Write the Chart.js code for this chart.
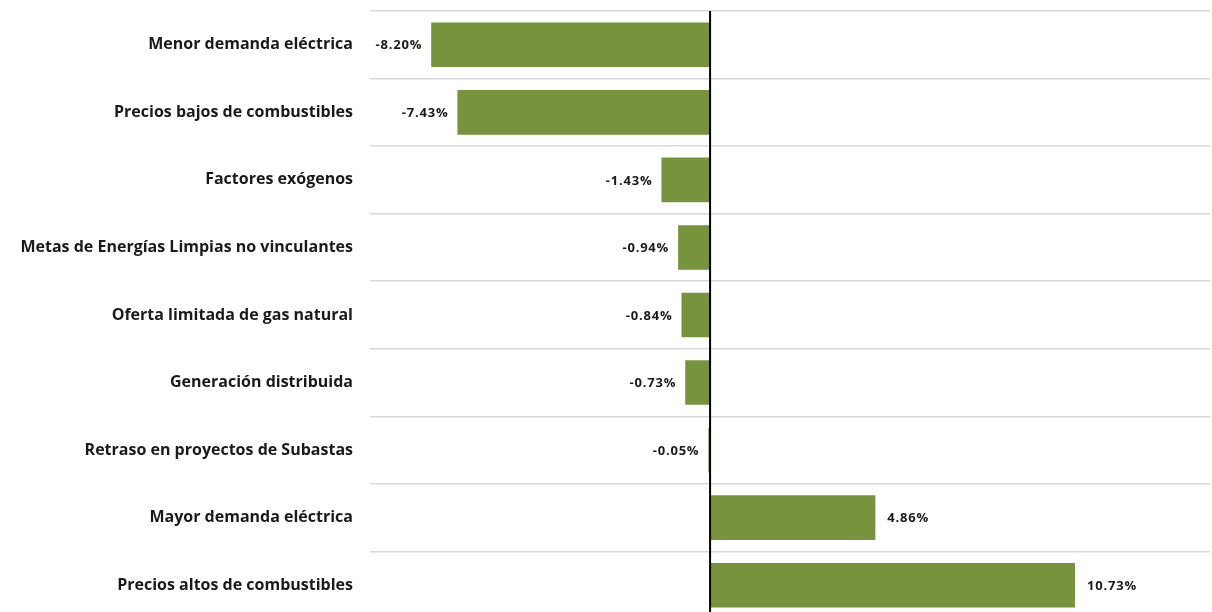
<!DOCTYPE html>
<html>
<head>
<meta charset="utf-8">
<script src="https://cdn.jsdelivr.net/npm/chart.js@4/dist/chart.umd.min.js"></script>
<style>
  html, body { margin: 0; padding: 0; background: #fff; overflow: hidden; }
  #wrap { width: 1212px; height: 620px; }
</style>
</head>
<body>
<div id="wrap"><canvas id="myChart" width="1212" height="620"></canvas></div>
<script>
const categorias = [
  "Menor demanda eléctrica",
  "Precios bajos de combustibles",
  "Factores exógenos",
  "Metas de Energías Limpias no vinculantes",
  "Oferta limitada de gas natural",
  "Generación distribuida",
  "Retraso en proyectos de Subastas",
  "Mayor demanda eléctrica",
  "Precios altos de combustibles"
];
const valores = [-8.20, -7.43, -1.43, -0.94, -0.84, -0.73, -0.05, 4.86, 10.73];

const colorBarra = "#77933C";
const fuente = "'Open Sans', Lato, sans-serif";

// etiquetas de valor al final de cada barra
const etiquetasPlugin = {
  id: "etiquetas",
  afterDatasetsDraw(chart) {
    const ctx = chart.ctx;
    const meta = chart.getDatasetMeta(0);
    ctx.save();
    ctx.font = "bold 13px " + fuente;
    ctx.letterSpacing = "0.8px";
    ctx.fillStyle = "#1a1a1a";
    ctx.textBaseline = "middle";
    meta.data.forEach((bar, i) => {
      const v = valores[i];
      const txt = v.toFixed(2) + "%";
      if (v < 0) {
        ctx.textAlign = "right";
        ctx.fillText(txt, bar.x - 9, bar.y + 1);
      } else {
        ctx.textAlign = "left";
        ctx.fillText(txt, bar.x + 12, bar.y + 1);
      }
    });
    // linea del cero
    ctx.letterSpacing = "0px";
    const x0 = chart.scales.x.getPixelForValue(0);
    ctx.strokeStyle = "#000";
    ctx.lineWidth = 2;
    ctx.beginPath();
    ctx.moveTo(x0, chart.chartArea.top);
    ctx.lineTo(x0, chart.chartArea.bottom);
    ctx.stroke();
    ctx.restore();
  }
};

new Chart("myChart", {
  type: "bar",
  data: {
    labels: categorias,
    datasets: [{
      data: valores,
      backgroundColor: colorBarra,
      borderWidth: 0,
      categoryPercentage: 1,
      barPercentage: 0.66
    }]
  },
  options: {
    indexAxis: "y",
    responsive: false,
    animation: false,
    layout: { padding: { top: 11, right: 2, bottom: 1, left: 0 } },
    plugins: {
      legend: { display: false },
      tooltip: { enabled: false }
    },
    scales: {
      x: {
        display: false,
        min: -10,
        max: 14.7
      },
      y: {
        afterFit(scale) {
          scale.width = 370;
          scale.paddingTop = 0;
          scale.paddingBottom = 0;
        },
        ticks: {
          padding: 17,
          color: "#1a1a1a",
          font: { family: fuente, size: 16, weight: "bold" }
        },
        grid: { color: "#d9d9d9", lineWidth: 1.5, drawTicks: false, offset: true },
        border: { display: false }
      }
    }
  },
  plugins: [etiquetasPlugin]
});
</script>
</body>
</html>
